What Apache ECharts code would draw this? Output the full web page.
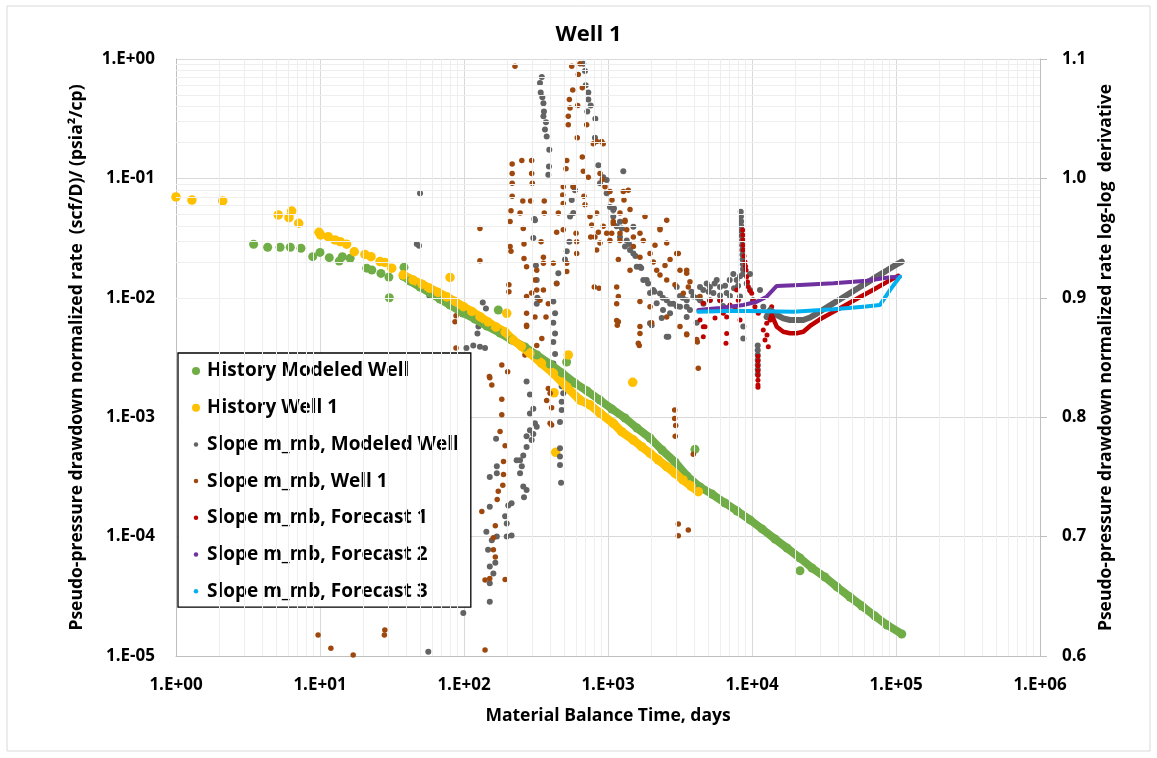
<!DOCTYPE html>
<html><head><meta charset="utf-8">
<script src="https://cdn.jsdelivr.net/npm/echarts@6/dist/echarts.min.js"></script>
<style>html,body{margin:0;padding:0;background:#fff}#c{width:1157px;height:758px}</style>
</head><body><div id="c"></div>
<script>
const FONT = '"Open Sans"';
const titleText = 'Well 1';
const xAxisName = 'Material Balance Time, days';
const yLeftName = 'Pseudo-pressure drawdown normalized rate  (scf/D)/ (psia\u00b2/cp)';
const yRightName = 'Pseudo-pressure drawdown normalized rate log-log  derivative';
const xDecades = [1, 10, 100, 1000, 10000, 100000];
const yDecades = [1e-5, 1e-4, 1e-3, 1e-2, 1e-1];
const minorMultipliers = [2, 3, 4, 5, 6, 7, 8, 9];
const rightTicks = [0.6, 0.7, 0.8, 0.9, 1.0, 1.1];
const seriesNames = ['History Modeled Well', 'History Well 1', 'Slope m_mb, Modeled Well', 'Slope m_mb, Well 1',
  'Slope m_mb, Forecast 1', 'Slope m_mb, Forecast 2', 'Slope m_mb, Forecast 3'];

// History Modeled Well (left axis)
const historyModeledPts = [[3.46,0.0281],[4.33,0.0265],[5.28,0.0265],[6.22,0.0265],[7.38,0.026],[8.9,0.0221],[10,0.024],[11.6,0.0217],[13.6,0.0203],[14.3,0.0221],[16.2,0.0214],[21.1,0.0177],[22.9,0.0171],[26.5,0.016],[30.1,0.0149],[30.3,0.01],[38.3,0.018],[37.9,0.0152],
  [21540,0.0000518],[4018,0.000538],[516,0.0029],[173,0.0079]];
const historyModeledBand = [[37.9,0.0152],[42.2,0.0138],[49.5,0.0123],[58,0.011],[68.1,0.00977],[80,0.00871],[98.4,0.00746],[119,0.00664],[144,0.00581],[178,0.00507],[215,0.00443],[265,0.00387],[321,0.00332],[396,0.00279],[479,0.00235],[590,0.00193],[715,0.00166],[880,0.00139],[1066,0.00117],[1312,0.000985],[1589,0.000812],[1958,0.00067],[2371,0.000531],[2918,0.000422],[3537,0.000322],[4355,0.00026],[5275,0.000227],[6496,0.000191],[7870,0.000164],[9685,0.000138],[11730,0.000116],[14450,0.0000955],[17500,0.0000803],[21540,0.0000662],[26100,0.0000546],[32100,0.0000459],[38900,0.0000379],[47900,0.0000312],[58000,0.0000262],[71500,0.0000216],[86600,0.0000182],[109600,0.0000153]];

// History Well 1 (left axis)
const historyWellPts = [[1.0,0.0699],[1.29,0.0659],[2.11,0.0647],[5.13,0.0494],[6.09,0.0469],[6.36,0.0533],[7.11,0.0421],[9.84,0.0354],[10.1,0.0336],[11.4,0.0325],[12.7,0.0305],[13.8,0.0295],[15.3,0.0281],[17.3,0.0243],[20.5,0.0231],[22.6,0.0221],[26.1,0.0201],[28.2,0.0198],[31.5,0.0177],[37.9,0.0155],
  [80,0.0148],[198,0.00741],[530,0.00332],[422,0.0016],[433,0.000508],[1485,0.00196]];
const historyWellBand = [[37.9,0.0155],[44.2,0.0141],[51.1,0.013],[58,0.012],[66,0.0111],[75.8,0.0102],[86.6,0.00931],[98.9,0.00842],[113.6,0.00768],[129,0.00695],[147,0.00627],[167,0.00569],[193,0.00517],[220,0.00443],[251,0.00391],[287,0.00343],[345,0.00283],[417,0.00233],[515,0.0018],[639,0.00139],[750,0.00127],[880,0.00108],[1088,0.000889],[1245,0.000756],[1500,0.000644],[1714,0.000566],[1958,0.000499],[2236,0.000438],[2557,0.000385],[2918,0.000339],[3318,0.000298],[3770,0.000265],[4237,0.000238]];

// Slope m_mb, Modeled Well (right axis)
const slopeModeledPts = [[47,0.945],[48.7,0.9436],[49.5,0.9875],[57.4,0.902],[98.9,0.636],[56.5,0.6036],[104,0.858],[116,0.86],[129,0.859],[140,0.858],[124,0.87],[129,0.881],[142,0.891],[135,0.896],[126,0.876],
  [151,0.6455],[151,0.661],[160,0.669],[151,0.675],[165,0.678],[147,0.689],[156,0.697],[143,0.704],[169,0.7],[198,0.7],[214,0.701],[198,0.711],[193,0.717],[203,0.726],[214,0.728],[151,0.725],[169,0.753],[151,0.75],[169,0.759],[167,0.782],
  [261,0.733],[258,0.742],[272,0.739],[245,0.753],[252,0.759],[245,0.764],[258,0.768],[272,0.775],[272,0.784],[303,0.786],[295,0.781],[287,0.789],[320,0.792],[311,0.795],[287,0.803],[303,0.807],[232,0.764],[272,0.83],[287,0.819],
  [464,0.796],[477,0.806],[477,0.813],[489,0.82],[477,0.826],[417,0.845],[429,0.853],[417,0.863],[429,0.87],[417,0.879],[464,0.774],[464,0.767],[464,0.76],[472,0.745],
  [311,0.965],[303,0.95],[308,0.966],[316,0.927],[320,0.915],[323,0.9],[320,0.895],[429,0.887],[440,0.912],[452,0.9205],[417,0.897],[503,0.932],[517,0.939],[539,0.947],[545,0.968],[574,0.971],[560,0.982],[574,0.993],[590,0.99],
  [347,1.085],[337,1.08],[341,1.072],[356,1.063],[359,1.056],[371,1.047],[365,1.041],[375,1.035],[391,1.024],[389,1.01],[385,1.003],[350,1.068],[356,1.052],
  [674,1.096],[692,1.09],[700,1.078],[730,1.072],[730,1.066],[758,1.061],[718,1.056],[817,1.05],[812,1.034],[857,1.011],[927,1.001],[880,0.996],[979,0.9875],[1032,0.976],[1088,0.968],[1149,0.96],[1211,0.951],[1312,0.943],[1277,1.006],
  [979,0.9987],[1088,0.9735],[1211,0.9637],[1349,0.948],[1500,0.937],[1667,0.926],[1856,0.915],[2064,0.9065],[2297,0.9037],[2557,0.898],[2840,0.895],[3162,0.8926],[3520,0.898],[3911,0.901],[4355,0.909],[4845,0.912],[5390,0.904],[5995,0.909],[6670,0.904],[7420,0.92],[7830,0.915],[8260,0.901],[1500,0.9595],[1958,0.8786],[2557,0.8674],[8705,0.876],[1422,0.94],[1583,0.926],[1758,0.915],[1958,0.904],[2697,0.887],[3520,0.884],[3000,0.909],[5686,0.915],[2011,0.877],[2624,0.8674],[4590,0.9065],[5105,0.909],[5995,0.898],[9685,0.92],[8260,0.918],[2360,0.883],[3520,0.8926],[4130,0.879],[8705,0.866],
  [1100,0.975],[1250,0.958],[1400,0.945],[1550,0.935],[1700,0.925],[1900,0.912],[2100,0.905],[2400,0.9],[2700,0.895],[3000,0.893],[3300,0.9],[3800,0.905],[4200,0.9],[4600,0.895],[5000,0.905],[5500,0.912],[6000,0.902],[6500,0.91],[7000,0.915],[7500,0.908],[8000,0.91],
  [8350,0.972],[8380,0.968],[8400,0.964],[8420,0.96],[8450,0.956],[8480,0.952],[8530,0.948],[8550,0.944],[8570,0.94],[8590,0.936],[8620,0.932],[8640,0.928],[8660,0.924],[8680,0.92],
  [10960,0.86],[10960,0.856],[10960,0.852],[10960,0.848],[10960,0.844],[10960,0.84],[10960,0.836],[11370,0.9065],[11980,0.8926],[12650,0.884],
  [3707,0.8898],[4355,0.898],[5105,0.898],[5360,0.8898],[6290,0.8931],[7030,0.9015],[9190,0.912],[9685,0.9065],[10160,0.898],[3162,0.9015],[2410,0.8898],[2178,0.8954]];
const slopeModeledTail = [[12650,0.884],[13340,0.8898],[14850,0.8856],[16490,0.8828],[18360,0.8814],[20440,0.8814],[22720,0.8814],[25290,0.8835],[28120,0.8868],[31280,0.8902],[34830,0.8936],[38730,0.8971],[43070,0.9005],[47940,0.9039],[53330,0.9074],[59290,0.9108],[65940,0.9142],[73400,0.9177],[81660,0.9211],[90820,0.9245],[101100,0.928],[109600,0.9302]];

// Slope m_mb, Well 1 (right axis)
const slopeWellPts = [[226,1.094],[560,1.094],[639,1.096],[622,1.087],[569,1.074],[539,1.066],[545,1.059],[530,1.052],[530,1.045],[616,1.061],[612,1.034],[663,1.076],[711,1.045],[663,1.018],[517,1.015],[511,1.008],
  [216,1.012],[252,1.015],[295,1.015],[216,1.004],[295,1.004],[216,0.996],[298,0.996],[216,0.985],[290,0.981],[256,0.981],[245,0.971],[212,0.973],[361,0.981],[361,0.971],[209,0.964],[258,0.958],[209,0.943],[212,0.939],[261,0.945],[261,0.933],[343,0.947],[356,0.934],[129,0.958],[129,0.931],
  [489,0.993],[485,0.986],[489,0.979],[452,0.971],[440,0.955],[489,0.957],[574,0.993],[600,0.954],[606,0.947],[606,0.937],[681,0.985],[692,0.978],[750,0.968],[771,0.961],[758,0.951],[812,0.951],[834,0.971],[857,0.955],[880,0.946],[834,0.94],[927,0.96],[979,0.954],[1032,0.948],[1088,0.962],[1211,0.954],[1312,0.965],[1349,0.957],[1384,0.99],[791,1.029],[834,1.031],[904,1.031],[913,0.999],[730,1.001],[674,1.006],
  [272,0.926],[320,0.923],[356,0.929],[311,0.915],[320,0.9065],[295,0.904],[356,0.9065],[337,0.898],[385,0.895],[371,0.884],[311,0.884],[272,0.901],[272,0.887],[272,0.877],[440,0.912],[417,0.929],[517,0.929],[517,0.922],[803,0.909],[866,0.908],[1180,0.901],[1149,0.895],[1149,0.881],[1160,0.877],[205,0.911],[205,0.905],[86.6,0.88],[88,0.885],[88,0.858],[272,0.876],
  [183,0.8437],[201,0.838],[151,0.833],[156,0.827],[183,0.815],[183,0.802],[178,0.788],[193,0.776],[188,0.763],[188,0.752],[186,0.743],[173,0.738],[170,0.731],[133,0.721],[165,0.709],[160,0.699],[160,0.689],[165,0.683],[151,0.665],[193,0.664],[140,0.6636],[28.2,0.6218],[28.0,0.6176],[140,0.605],
  [396,0.795],[406,0.808],[375,0.814],[396,0.82],[265,0.852],[320,0.86],[385,0.842],[347,0.866],[9.7,0.6176],[11.9,0.6064],[17,0.6008],[150,0.834],[385,0.824],[406,0.7935],
  [1667,0.87],[1649,0.86],[3520,0.8697],[4170,0.863],[4237,0.841],[2904,0.806],[2904,0.799],[2951,0.793],[2930,0.784],[3030,0.76],[3077,0.7106],[3077,0.7008],[3611,0.7055],[3911,0.769],
  [927,1.029],[880,1.004],[953,0.993],[1032,0.989],[1277,0.989],[1291,0.982],[1211,0.971],[1312,0.964],[1088,0.964],[1061,0.954],[1211,0.948],[1500,0.951],[1667,0.954],[1758,0.948],[1500,0.943],[1958,0.937],[2064,0.93],[2297,0.957],[2557,0.965],[2557,0.946],[2697,0.932],[3000,0.937],[3162,0.923],[3520,0.9205],[3707,0.9135],[3334,0.9038],[2557,0.915],[2178,0.923],[1667,0.934],[1422,0.923],[1180,0.932],[1149,0.909],[1667,0.897],[1958,0.8926],[2557,0.884],[3162,0.876],[3520,0.869],[1667,0.876],[1180,0.88],[2297,0.958],[3077,0.937],[3520,0.923],[3611,0.909],[4355,0.901],[4130,0.865],[1623,0.862],[2011,0.879],
  [1807,0.968],[2120,0.944],[2488,0.927],[2918,0.911],[2297,0.919],[1422,0.974],[1066,0.982]];

// Slope m_mb, Forecast 1 (right axis)
const forecast1Pts = [[4355,0.8814],[4590,0.8954],[4718,0.8758],[4845,0.8898],[5105,0.898],[5535,0.8831],[5995,0.898],[6320,0.887],[6596,0.862],[6670,0.87],[6670,0.884],[7030,0.894],[7620,0.891],[7830,0.9065],[8030,0.898],[8260,0.8814],[4590,0.8758],[4590,0.8674],
  [8615,0.9568],[8630,0.9526],[8660,0.9484],[8680,0.944],[8705,0.94],[8800,0.935],[8940,0.93],[9020,0.9265],[9090,0.9233],[9190,0.9177],[9300,0.9135],[9430,0.9093],[9700,0.906],[9950,0.9038],[10200,0.898],[10490,0.8926],[11060,0.887],
  [11000,0.851],[11000,0.847],[11000,0.843],[11000,0.839],[11000,0.835],[11000,0.831],[11000,0.827],[11000,0.825],
  [11980,0.873],[12650,0.8787],[12710,0.8689],[12980,0.859],[13340,0.8814],[13700,0.8926],[12310,0.8647]];
const forecast1Tail = [[13340,0.8814],[13700,0.8856],[14850,0.8758],[16490,0.8716],[18360,0.8703],[20440,0.8703],[22720,0.8716],[25290,0.8764],[29650,0.882],[36700,0.8882],[45500,0.8944],[56230,0.9006],[69550,0.9068],[86100,0.9131],[103800,0.9184]];

// Slope m_mb, Forecast 2 (right axis)
const forecast2Line = [[4237,0.8898],[5995,0.8915],[8705,0.894],[10780,0.8967],[12650,0.9009],[14850,0.9099],[21540,0.9107],[36700,0.9121],[62600,0.9143],[90820,0.9172],[106600,0.9177]];

// Slope m_mb, Forecast 3 (right axis)
const forecast3Line = [[4237,0.8884],[7420,0.8892],[19360,0.8884],[36700,0.8904],[59290,0.8926],[77440,0.894],[90820,0.9065],[106600,0.9177]];

const smallDot = 'path://M0,0M20,20M15.6,10A5.6,5.6,0,1,1,4.4,10A5.6,5.6,0,1,1,15.6,10Z';
const colors = ['#70AD47', '#FFC000', '#636363', '#9E480E', '#C00000', '#7030A0', '#00B0F0'];

function expLabel(v) {
  const e = Math.round(Math.log10(v));
  return '1.E' + (e < 0 ? '-' : '+') + String(Math.abs(e)).padStart(2, '0');
}

const xMinor = [], yMinor = [];
xDecades.forEach(d => minorMultipliers.forEach(m => xMinor.push(m * d)));
yDecades.forEach(d => minorMultipliers.forEach(m => yMinor.push(m * d)));

const labelStyle = { fontFamily: FONT, fontWeight: 'bold', fontSize: 17, color: '#000' };
const nameStyle = { fontFamily: FONT, fontWeight: 'bold', fontSize: 17.5, color: '#000' };

const chart = echarts.init(document.getElementById('c'), null, { renderer: 'canvas' });
chart.setOption({
  animation: false,
  backgroundColor: '#fff',
  title: { text: titleText, left: 583.5, top: 19, textAlign: 'center',
    textStyle: { fontFamily: FONT, fontWeight: 'bold', fontSize: 22, color: '#000' } },
  graphic: [{ type: 'rect', silent: true, z: -10, shape: { x: 7, y: 6, width: 1143, height: 745 },
    style: { fill: 'none', stroke: '#d9d9d9', lineWidth: 1 } }],
  grid: { left: 176, top: 59, right: 117, bottom: 102, containLabel: false },
  xAxis: { type: 'log', logBase: 10, min: 1, max: 1e6, splitNumber: 6,
    name: xAxisName, nameLocation: 'middle', nameGap: 51, nameTextStyle: nameStyle,
    axisLine: { show: true, lineStyle: { color: '#bfbfbf', width: 1 } },
    axisTick: { show: false },
    axisLabel: Object.assign({ margin: 21, formatter: expLabel }, labelStyle),
    splitLine: { show: true, lineStyle: { color: '#d9d9d9', width: 1 } } },
  yAxis: [
    { type: 'log', logBase: 10, min: 1e-5, max: 1, splitNumber: 5,
      name: yLeftName, nameLocation: 'middle', nameGap: 90, nameTextStyle: nameStyle,
      axisLine: { show: true, lineStyle: { color: '#bfbfbf', width: 1 } },
      axisTick: { show: false },
      axisLabel: Object.assign({ margin: 21, formatter: expLabel }, labelStyle),
      splitLine: { show: true, lineStyle: { color: '#d9d9d9', width: 1 } } },
    { type: 'value', min: rightTicks[0], max: rightTicks[rightTicks.length - 1], interval: 0.1, position: 'right',
      name: yRightName, nameLocation: 'middle', nameGap: 57, nameTextStyle: nameStyle,
      axisLine: { show: true, lineStyle: { color: '#bfbfbf', width: 1 } },
      axisTick: { show: true, inside: false, length: 7, lineStyle: { color: '#bfbfbf' } },
      axisLabel: Object.assign({ margin: 22, formatter: v => v.toFixed(1) }, labelStyle),
      splitLine: { show: false } }
  ],
  legend: {
    orient: 'vertical', left: 178, top: 353,
    padding: [8, 12, 6, 14], itemGap: 16.7, itemWidth: 12, itemHeight: 8,
    backgroundColor: '#fff', borderColor: '#000', borderWidth: 1.3,
    textStyle: { fontFamily: FONT, fontWeight: 'bold', fontSize: 19, color: '#000', lineHeight: 20 },
    data: seriesNames.map((n, i) => ({ name: n, icon: i < 2 ? 'circle' : smallDot }))
  },
  series: [
    { type: 'line', xAxisIndex: 0, yAxisIndex: 0, data: [], silent: true, z: 0,
      markLine: { silent: true, symbol: ['none', 'none'], label: { show: false },
        lineStyle: { color: '#eeeeee', width: 1, type: 'solid' }, emphasis: { disabled: true },
        data: xMinor.map(v => ({ xAxis: v })).concat(yMinor.map(v => ({ yAxis: v }))) } },
    { name: seriesNames[0], type: 'scatter', yAxisIndex: 0, data: historyModeledPts, symbolSize: 9,
      itemStyle: { color: colors[0], opacity: 1 } },
    { name: seriesNames[0], type: 'line', yAxisIndex: 0, data: historyModeledBand, symbol: 'circle', symbolSize: 9,
      showAllSymbol: true, itemStyle: { color: colors[0] }, lineStyle: { color: colors[0], width: 8, cap: 'round', join: 'round' } },
    { name: seriesNames[1], type: 'scatter', yAxisIndex: 0, data: historyWellPts, symbolSize: 9.5,
      itemStyle: { color: colors[1], opacity: 1 } },
    { name: seriesNames[1], type: 'line', yAxisIndex: 0, data: historyWellBand, symbol: 'circle', symbolSize: 9.5,
      showAllSymbol: true, itemStyle: { color: colors[1] }, lineStyle: { color: colors[1], width: 8.5, cap: 'round', join: 'round' } },
    { name: seriesNames[2], type: 'scatter', yAxisIndex: 1, data: slopeModeledPts, symbolSize: 6,
      itemStyle: { color: colors[2], opacity: 1 } },
    { name: seriesNames[2], type: 'line', yAxisIndex: 1, data: slopeModeledTail, symbol: 'none',
      itemStyle: { color: colors[2] }, lineStyle: { color: colors[2], width: 6, cap: 'round', join: 'round' } },
    { name: seriesNames[3], type: 'scatter', yAxisIndex: 1, data: slopeWellPts, symbolSize: 5.5,
      itemStyle: { color: colors[3], opacity: 1 } },
    { name: seriesNames[4], type: 'scatter', yAxisIndex: 1, data: forecast1Pts, symbolSize: 5,
      itemStyle: { color: colors[4], opacity: 1 } },
    { name: seriesNames[4], type: 'line', yAxisIndex: 1, data: forecast1Tail, symbol: 'none',
      itemStyle: { color: colors[4] }, lineStyle: { color: colors[4], width: 4.5, cap: 'round', join: 'round' } },
    { name: seriesNames[5], type: 'line', yAxisIndex: 1, data: forecast2Line, symbol: 'none',
      itemStyle: { color: colors[5] }, lineStyle: { color: colors[5], width: 4, cap: 'round', join: 'round' } },
    { name: seriesNames[6], type: 'line', yAxisIndex: 1, data: forecast3Line, symbol: 'none',
      itemStyle: { color: colors[6] }, lineStyle: { color: colors[6], width: 4, cap: 'round', join: 'round' } }
  ]
});
</script>
</body></html>
